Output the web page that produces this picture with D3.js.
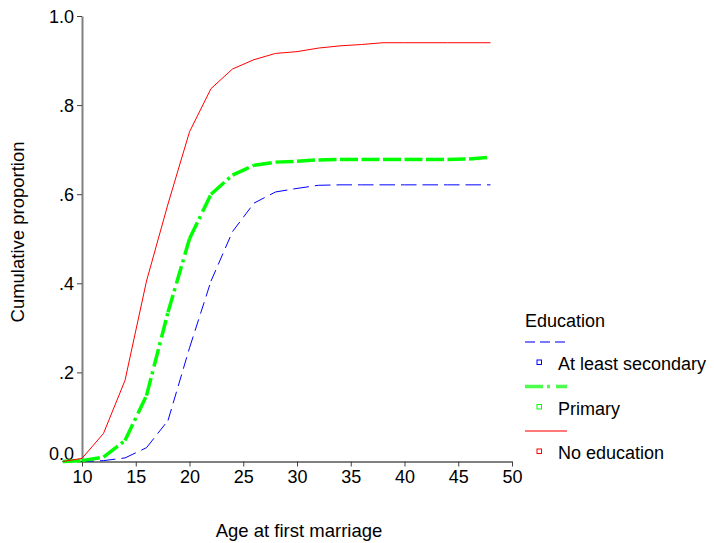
<!DOCTYPE html>
<html>
<head>
<meta charset="utf-8">
<script src="https://cdn.jsdelivr.net/npm/d3@7"></script>
<style>
  body { margin: 0; background: #fff; }
  svg { display: block; font-family: "Liberation Sans", Arial, sans-serif; }
</style>
</head>
<body>
<svg id="chart" width="714" height="543"></svg>
<script>
// ages at which the cumulative proportions were read
const ages = [8.2, 10, 12, 14, 16, 18, 20, 22, 24, 26, 28, 30, 32, 34, 36, 38, 40, 42, 44, 46, 48];

const secondary = [0, 0, 0.002, 0.008, 0.031, 0.092, 0.255, 0.405, 0.516, 0.58, 0.605, 0.613, 0.62, 0.621, 0.621, 0.621, 0.621, 0.621, 0.621, 0.621, 0.621];
const primary = [0, 0.002, 0.01, 0.047, 0.148, 0.335, 0.5, 0.6, 0.643, 0.665, 0.672, 0.674, 0.677, 0.678, 0.678, 0.678, 0.678, 0.678, 0.678, 0.679, 0.683];
const noEducation = [0, 0.007, 0.063, 0.182, 0.405, 0.578, 0.74, 0.837, 0.881, 0.902, 0.916, 0.92, 0.928, 0.933, 0.936, 0.94, 0.94, 0.94, 0.94, 0.94, 0.94];

const xTicks = [10, 15, 20, 25, 30, 35, 40, 45, 50];
const yTicks = [0, 0.2, 0.4, 0.6, 0.8, 1.0];
const yTickLabels = ["0.0", ".2", ".4", ".6", ".8", "1.0"];

const series = [
  { name: "At least secondary", values: secondary, color: "#0000ff", width: 1, dash: "12,6", legendDash: "10,5" },
  { name: "Primary", values: primary, color: "#00ff00", width: 3.5, dash: "18,4,3,5", legendDash: "18,4,3,6" },
  { name: "No education", values: noEducation, color: "#ff0000", width: 1, dash: null, legendDash: null }
];

const svg = d3.select('#chart');

const x = d3.scaleLinear().domain([10, 50]).range([82, 512]);
const y = d3.scaleLinear().domain([0, 1]).range([461.5, 16]);

// axes
const $yAxis = svg.append('g')
  .attr('transform', `translate(${x(10)},0)`)
  .call(d3.axisLeft(y).tickValues(yTicks).tickSize(5).tickSizeOuter(0)
    .tickFormat((d, i) => yTickLabels[i]));

const $xAxis = svg.append('g')
  .attr('transform', `translate(0,${y(0)})`)
  .call(d3.axisBottom(x).tickValues(xTicks).tickSize(5).tickSizeOuter(0)
    .tickFormat(d3.format('d')));

[$xAxis, $yAxis].forEach($a => {
  $a.select('.domain').attr('stroke', '#808080').attr('stroke-width', 2);
  $a.selectAll('.tick line').attr('stroke', '#404040').attr('stroke-width', 1);
  $a.selectAll('.tick text')
    .attr('font-size', 18)
    .attr('font-family', '"Liberation Sans", Arial, sans-serif')
    .attr('fill', '#000');
});
// the 0.0 label sits a little above its tick, clear of the x axis
$yAxis.selectAll('.tick text')
  .attr('x', -8)
  .attr('dy', d => d === 0 ? '-0.1em' : '0.36em');
$xAxis.selectAll('.tick text').attr('y', 9);

// curves: dash pattern restarts on every segment
const line = d3.line().x(d => x(d[0])).y(d => y(d[1]));

series.forEach(s => {
  const pts = ages.map((a, i) => [a, s.values[i]]);
  const $g = svg.append('g').attr('class', 'series');
  if (s.dash) {
    $g.selectAll('path')
      .data(d3.pairs(pts))
      .join('path')
      .attr('d', line)
      .attr('fill', 'none')
      .attr('stroke', s.color)
      .attr('stroke-width', s.width)
      .attr('stroke-dasharray', s.dash);
  } else {
    $g.append('path')
      .datum(pts)
      .attr('d', line)
      .attr('fill', 'none')
      .attr('stroke', s.color)
      .attr('stroke-width', s.width)
      .attr('stroke-linejoin', 'round');
  }
});

// axis titles
svg.append('text')
  .attr('x', 299)
  .attr('y', 537)
  .attr('text-anchor', 'middle')
  .attr('font-size', 18.5)
  .text('Age at first marriage');

svg.append('text')
  .attr('transform', 'translate(24,232) rotate(-90)')
  .attr('text-anchor', 'middle')
  .attr('font-size', 18.5)
  .text('Cumulative proportion');

// legend
const $legend = svg.append('g').attr('transform', 'translate(525,0)');
$legend.append('text')
  .attr('x', 0)
  .attr('y', 327)
  .attr('font-size', 18)
  .text('Education');

const $item = $legend.selectAll('g.item')
  .data(series)
  .join('g')
  .attr('class', 'item')
  .attr('transform', (d, i) => `translate(0,${342 + i * 44.5})`);

$item.append('line')
  .attr('x1', 0).attr('x2', 42)
  .attr('y1', 0).attr('y2', 0)
  .attr('stroke', d => d.color)
  .attr('stroke-opacity', 0.7)
  .attr('stroke-width', d => d.width === 1 ? 1.5 : d.width)
  .attr('stroke-dasharray', d => d.legendDash);

$item.append('rect')
  .attr('x', 12).attr('y', 18)
  .attr('width', 4.5).attr('height', 4.5)
  .attr('fill', 'none')
  .attr('stroke', d => d.color)
  .attr('stroke-width', 1);

$item.append('text')
  .attr('x', 33)
  .attr('y', 28)
  .attr('font-size', 18)
  .text(d => d.name);
</script>
</body>
</html>
